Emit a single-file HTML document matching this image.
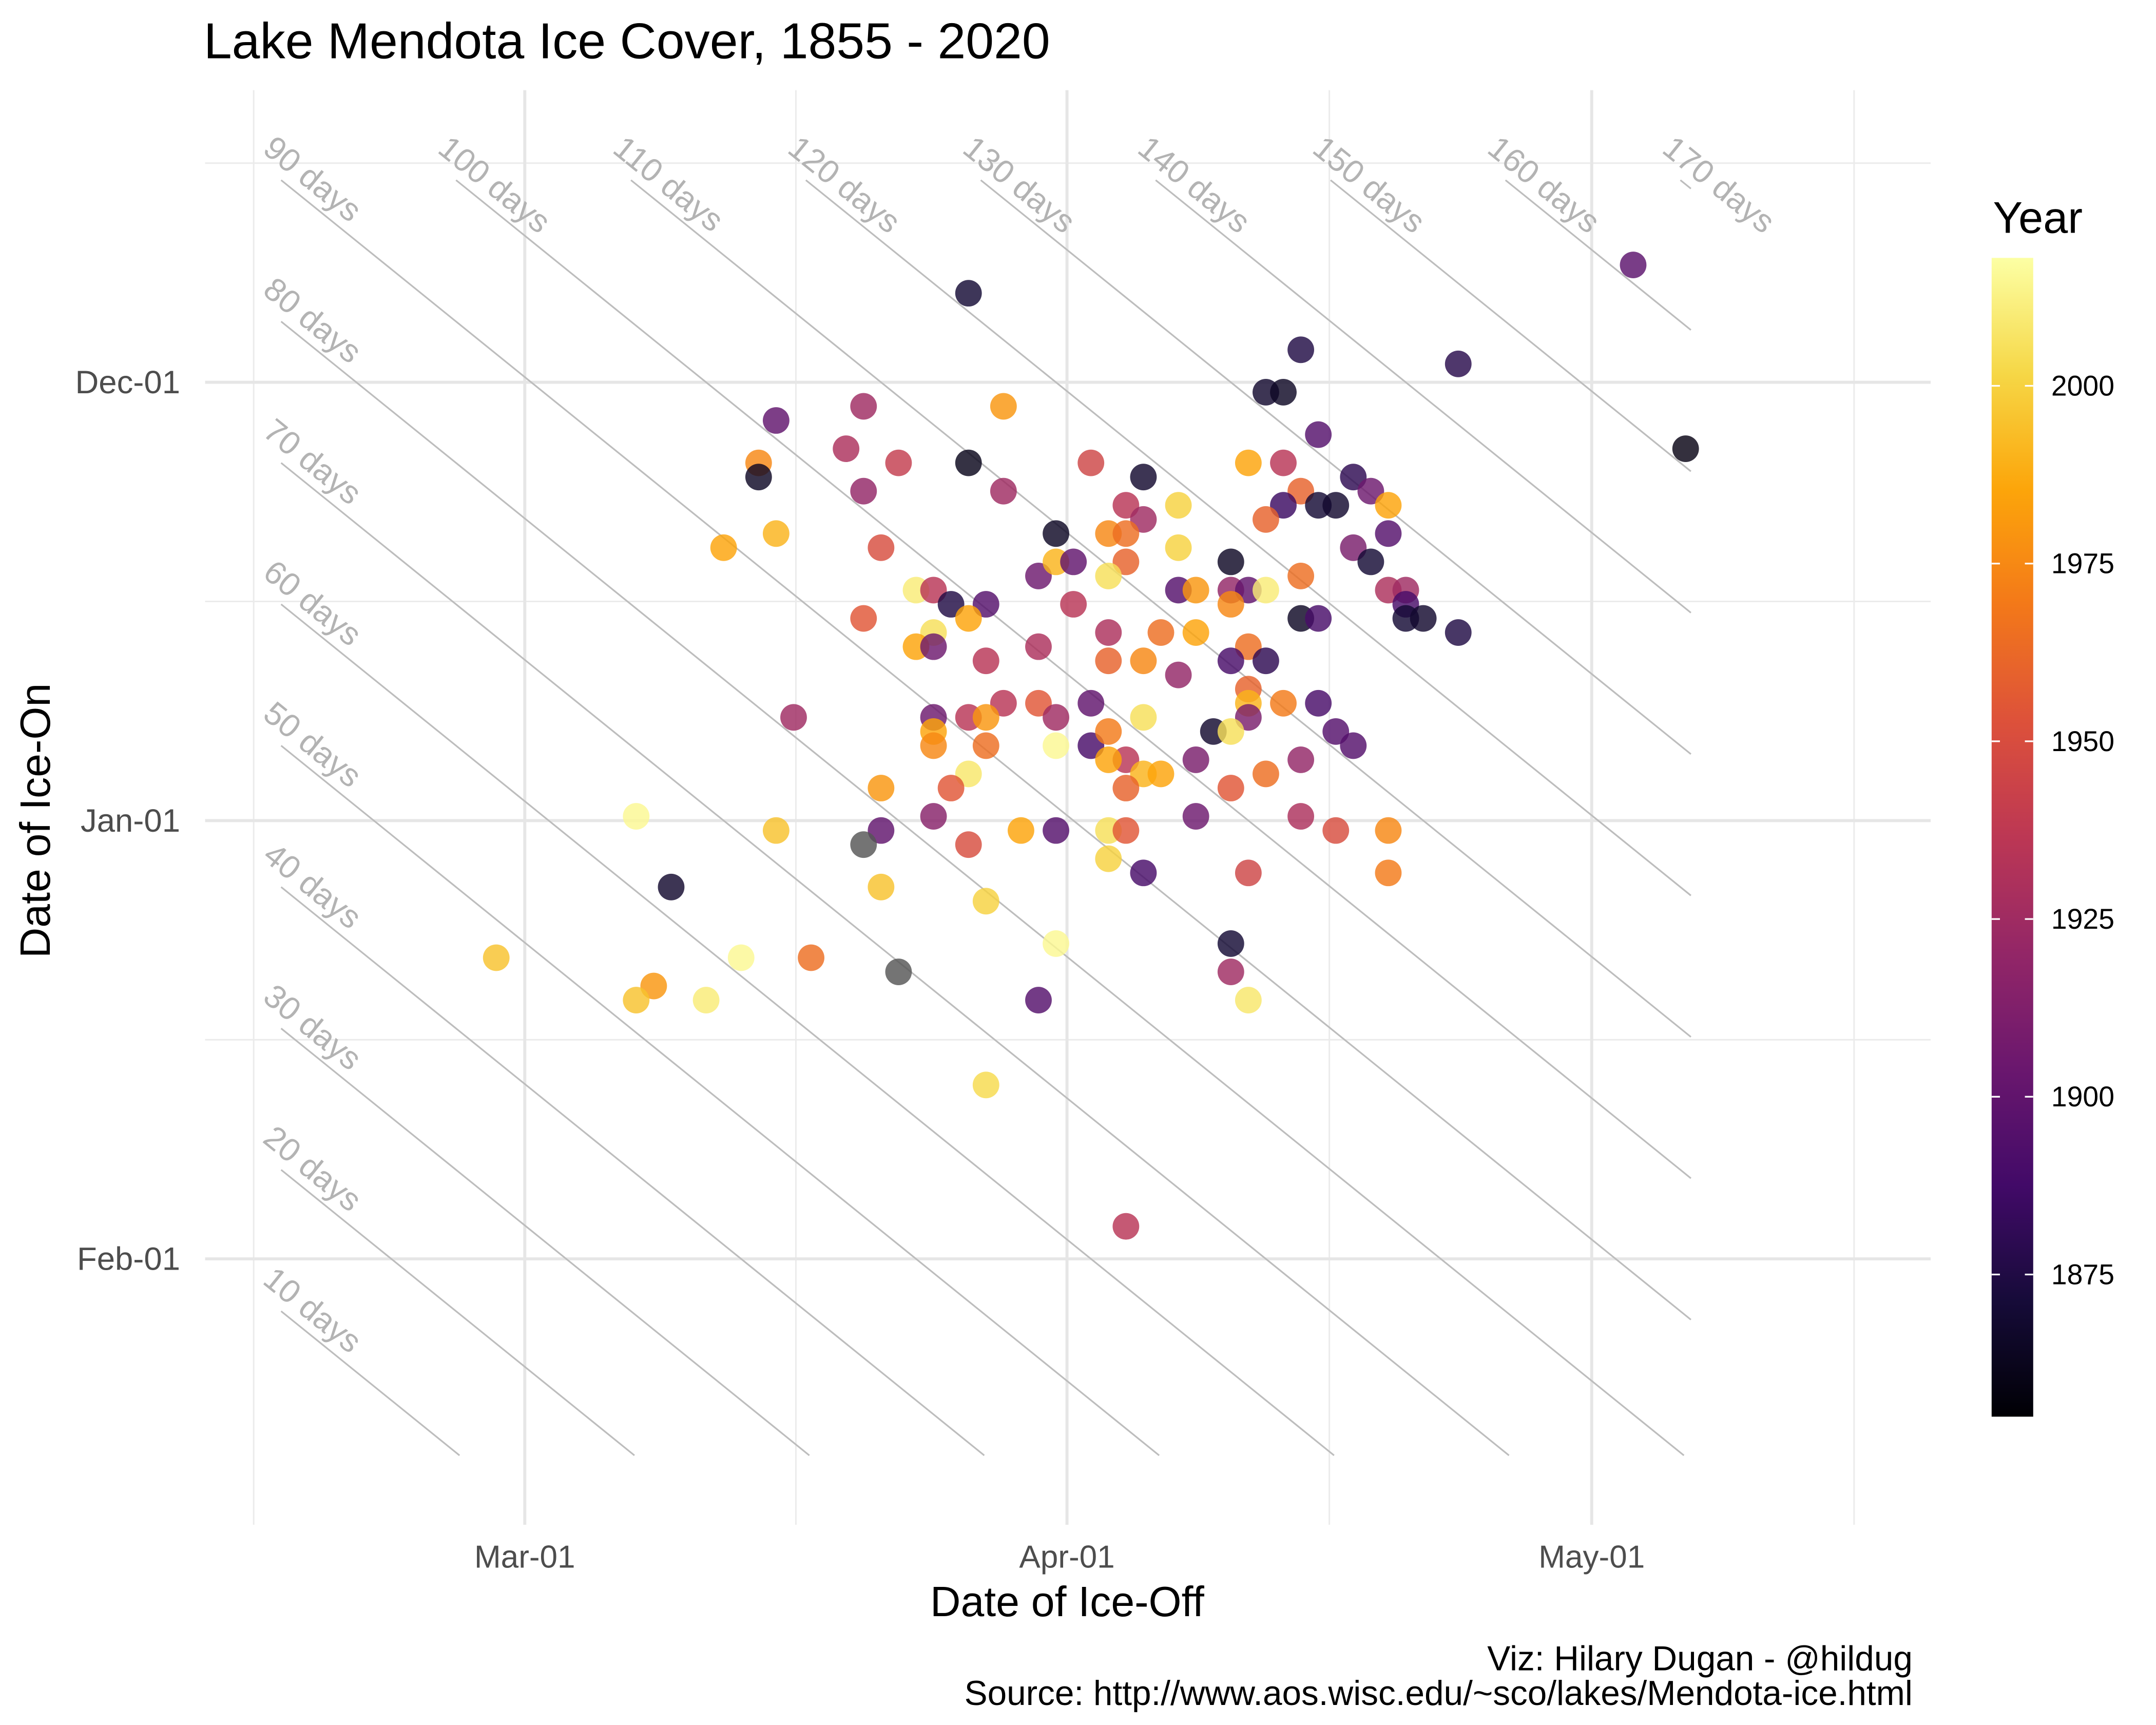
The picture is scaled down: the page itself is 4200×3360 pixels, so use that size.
<!DOCTYPE html>
<html><head><meta charset="utf-8"><title>Lake Mendota Ice Cover</title>
<style>html,body{margin:0;padding:0;background:#fff}svg{display:block}</style></head>
<body>
<svg id="chart" xmlns="http://www.w3.org/2000/svg" width="4200" height="3360" viewBox="0 0 1555.6 1244.4" font-family="Liberation Sans, Arial, sans-serif">
<rect x="0" y="0" width="1555.6" height="1244.4" fill="#fff"/>
<text x="147" y="42" font-size="36.5" fill="#000">Lake Mendota Ice Cover, 1855 - 2020</text>
<g id="grid"></g>
<g id="durlines"></g>
<g id="points"></g>
<g id="axes"></g>
<text x="770" y="1166" font-size="30.5" text-anchor="middle" fill="#000">Date of Ice-Off</text>
<text transform="translate(36,592) rotate(-90)" font-size="30.5" text-anchor="middle" fill="#000">Date of Ice-On</text>
<text x="1380" y="1205" font-size="25" text-anchor="end" fill="#000">Viz: Hilary Dugan - @hildug</text>
<text x="1380" y="1230" font-size="25" text-anchor="end" fill="#000">Source: http://www.aos.wisc.edu/~sco/lakes/Mendota-ice.html</text>
<g id="legend"></g>
</svg>
<script>
// ---- data (ice-off: days after Mar-01; ice-on: days after Jan-01; year, 0 = unknown) ----
const iceOff = [63,25,44,53,42,43,14,19,27,66,18,21,25,32,13,13,35,41,43,45,47,48,19,27,34,35,37,44,43,45,46,49,42,30,11,14,20,33,34,37,49,47,29,30,31,34,33,40,48,44,49,50,22,23,37,38,40,41,42,40,24,26,31,19,25,44,45,50,50,51,53,33,36,38,23,22,23,29,41,26,33,35,40,42,37,41,41,32,29,27,43,45,15,23,25,26,30,35,41,39,40,46,47,23,23,26,30,32,33,34,33,38,44,42,35,36,25,24,20,34,40,6,14,20,19,23,25,28,30,33,34,38,44,46,49,33,35,41,49,8,20,26,30,40,-2,12,16,40,21,7,6,10,29,41,26,34];
const iceOn = [-39,-37,-33,-32,-30,-30,-28,-29,-29,-26,-26,-25,-25,-25,-25,-24,-24,-25,-25,-27,-24,-23,-23,-23,-22,-21,-22,-23,-22,-22,-22,-22,-21,-20,-19,-20,-19,-20,-20,-19,-20,-19,-17,-18,-18,-18,-17,-18,-18,-17,-16,-16,-16,-16,-16,-16,-16,-16,-16,-15,-15,-15,-15,-14,-14,-14,-14,-15,-14,-14,-13,-13,-13,-13,-13,-12,-12,-12,-12,-11,-11,-11,-11,-11,-10,-9,-8,-8,-8,-8,-8,-8,-7,-7,-7,-7,-7,-7,-7,-6,-6,-6,-5,-6,-5,-5,-5,-5,-6,-4,-4,-4,-4,-3,-3,-3,-3,-2,-2,-2,-2,0,1,1,2,0,2,1,1,1,1,0,0,1,1,3,4,4,4,5,5,6,9,9,10,10,10,11,11,12,13,13,13,13,19,29];
const years = [1898,1870,1875,1878,1868,1865,1900,1925,1980,1860,1930,1940,1862,1945,1975,1865,1868,1985,1935,1895,1880,1905,1920,1925,1935,1925,2000,1960,1885,1870,1868,1985,1960,1865,1985,1990,1950,1975,1965,2000,1895,1910,1905,1990,1900,1960,2005,1865,1870,1965,1930,1925,2010,1935,1895,1980,1920,1900,2010,1975,1875,1895,1935,1955,1985,1865,1890,1890,1870,1868,1875,1930,1965,1985,2005,1985,1905,1930,1965,1935,1960,1975,1890,1880,1920,1960,1990,1900,1955,1935,1970,1890,1925,1905,1935,1980,1925,2005,1910,1868,2005,1895,1895,1985,1975,1965,2015,1890,1970,1935,1985,1910,1920,1965,1990,1985,2008,1955,1980,1960,1955,2015,1995,1900,0,1915,1950,1985,1895,2005,1955,1905,1930,1950,1975,2000,1890,1945,1970,1868,1995,2000,2015,1870,1995,2015,1965,1925,0,1980,1995,2010,1895,2008,2003,1935];
const durations = [10,20,30,40,50,60,70,80,90,100,110,120,130,140,150,160,170];
const xTickDays = [0,31,61];
const xTickLabels = ["Mar-01","Apr-01","May-01"];
const yTickDays = [-31,0,31];
const yTickLabels = ["Dec-01","Jan-01","Feb-01"];
const legendYears = [1875,1900,1925,1950,1975,2000];

const NS = "http://www.w3.org/2000/svg";
const X0 = 383.3, XK = 12.62, Y0 = 588.9, YK = 10.2;
function xs(d){ return X0 + XK*d; }
function ys(o){ return Y0 + YK*o; }
function xt(d){ return xs(d - 0.37); }
function yt(o){ return ys(o + 0.3); }
const PX0 = 148, PX1 = 1393, PY0 = 65, PY1 = 1100;
function mk(tag, attrs, parent){ const e = document.createElementNS(NS, tag); for (const k in attrs) e.setAttribute(k, attrs[k]); parent.appendChild(e); return e; }

const inferno = ["#000004","#160b39","#420a68","#6a176e","#932667","#bc3754","#dd513a","#f37819","#fca50a","#f6d746","#fcffa4"];
function hex(h){ return [parseInt(h.slice(1,3),16),parseInt(h.slice(3,5),16),parseInt(h.slice(5,7),16)]; }
function colorAt(t){ t = Math.max(0, Math.min(1, t)); const p = t*10, i = Math.min(9, Math.floor(p)), f = p - i; const a = hex(inferno[i]), b = hex(inferno[i+1]); return "rgb(" + a.map((v,k)=>Math.round(v+(b[k]-v)*f)).join(",") + ")"; }
const YMIN = 1855, YMAX = 2018;
function yearColor(y){ return y === 0 ? "#555555" : colorAt((y - YMIN)/(YMAX - YMIN)); }

// grid
const grid = document.getElementById("grid");
const xMaj = xTickDays.map(xt), yMaj = yTickDays.map(yt);
const xMin = [2*xMaj[0]-(xMaj[0]+xMaj[1])/2, (xMaj[0]+xMaj[1])/2, (xMaj[1]+xMaj[2])/2, 2*xMaj[2]-(xMaj[1]+xMaj[2])/2];
const yMin = [2*yMaj[0]-(yMaj[0]+yMaj[1])/2, (yMaj[0]+yMaj[1])/2, (yMaj[1]+yMaj[2])/2];
xMin.forEach(x => { const l = mk("line",{x1:x,x2:x,y1:PY0,y2:PY1,stroke:"#ebebeb","stroke-width":1.1},grid);
  
   });
yMin.forEach(y => { const l = mk("line",{x1:PX0,x2:PX1,y1:y,y2:y,stroke:"#ebebeb","stroke-width":1.1},grid);
  
   });
xMaj.forEach(x => { const l = mk("line",{x1:x,x2:x,y1:PY0,y2:PY1,stroke:"#e6e6e6","stroke-width":2.2},grid);
  
   });
yMaj.forEach(y => { const l = mk("line",{x1:PX0,x2:PX1,y1:y,y2:y,stroke:"#e6e6e6","stroke-width":2.2},grid);
  
   });

// duration lines
const dl = document.getElementById("durlines");
const DMIN = -14.3, DMAX = 66.3, OMIN = -45, OMAX = 45.2;
const ang = Math.atan2(YK, XK) * 180 / Math.PI;
durations.forEach(dur => {
  const oS = Math.max(OMIN, DMIN - dur + 59.3), oE = Math.min(OMAX, DMAX - dur + 59.3);
  const dS = dur + oS - 59.3, dE = dur + oE - 59.3;
  if (oE > oS) {
    const l = mk("line",{x1:xs(dS),y1:ys(oS),x2:xs(dE),y2:ys(oE),stroke:"#bdbdbd","stroke-width":1.2},dl);
    
    
  }
  const t = mk("text",{transform:"translate(" + xs(dS) + "," + ys(oS) + ") rotate(" + ang + ") translate(-24,-7)","font-size":23.5,fill:"#b3b3b3"},dl);
  t.textContent = dur + " days";
  
  
});

// points
const pg = document.getElementById("points");
iceOff.forEach((d,i) => {
  const c = mk("circle",{cx:xs(d),cy:ys(iceOn[i]),r:9.6,fill:yearColor(years[i]),"fill-opacity":0.82},pg);
  
  
});

// axis labels
const ax = document.getElementById("axes");
xTickDays.forEach((d,i) => {
  const t = mk("text",{x:xt(d),y:1131,"font-size":23,"text-anchor":"middle",fill:"#4d4d4d"},ax);
  t.textContent = xTickLabels[i];
  
  
});
yTickDays.forEach((o,i) => {
  const t = mk("text",{x:130,y:yt(o)+8,"font-size":23.5,"text-anchor":"end",fill:"#4d4d4d"},ax);
  t.textContent = yTickLabels[i];
  
  
});

// legend
const lg = document.getElementById("legend");
const LT = 186, LB = 1022, LX = 1437, LW = 30;
function ly(y){ return LB - (y - YMIN)/(YMAX - YMIN)*(LB - LT); }
const title = mk("text",{x:1438,y:168,"font-size":32,fill:"#000"},lg);
title.textContent = "Year";


const defs = mk("defs",{},lg);
const grad = mk("linearGradient",{id:"infg",x1:0,y1:1,x2:0,y2:0},defs);
for (let k = 0; k <= 20; k++) mk("stop",{offset:(k/20),"stop-color":colorAt(k/20)},grad);
const bar = mk("rect",{x:LX,y:LT,width:LW,height:LB-LT,fill:"url(#infg)"},lg);


legendYears.forEach(y => {
  const yy = ly(y);
  mk("line",{x1:LX,x2:LX+6,y1:yy,y2:yy,stroke:"#fff","stroke-width":1.2},lg);
  mk("line",{x1:LX+LW-6,x2:LX+LW,y1:yy,y2:yy,stroke:"#fff","stroke-width":1.2},lg);
  const t = mk("text",{x:1480,y:yy+7,"font-size":20.5,fill:"#000"},lg);
  t.textContent = y;
  
  
});
</script>
</body></html>
